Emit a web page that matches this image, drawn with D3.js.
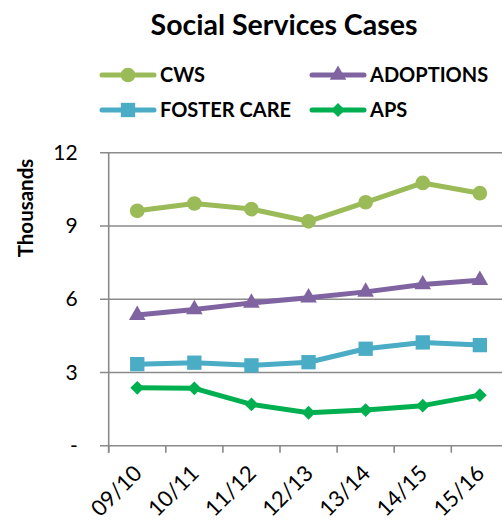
<!DOCTYPE html>
<html>
<head>
<meta charset="utf-8">
<script src="https://cdn.jsdelivr.net/npm/d3@7"></script>
<style>
  body { margin: 0; background: #fff; }
  text { font-family: Lato, "Open Sans", sans-serif; fill: #000; }
</style>
</head>
<body>
<div id="chart"></div>
<script>
// fiscal years on the x axis
const years = ["09/10", "10/11", "11/12", "12/13", "13/14", "14/15", "15/16"];
// case counts, in thousands
const cws = [9.62, 9.92, 9.69, 9.19, 9.97, 10.76, 10.34];
const adoptions = [5.35, 5.58, 5.85, 6.06, 6.30, 6.60, 6.78];
const fosterCare = [3.34, 3.40, 3.29, 3.42, 3.97, 4.23, 4.12];
const aps = [2.37, 2.35, 1.69, 1.35, 1.46, 1.64, 2.07];
const yTicks = [0, 3, 6, 9, 12];

// diamond = square turned 45deg
const series = [
    {name: "CWS", values: cws, color: "#9BBB59", symbol: d3.symbolCircle, size: 170, rot: 0},
    {name: "ADOPTIONS", values: adoptions, color: "#8064A2", symbol: d3.symbolTriangle, size: 120, rot: 0},
    {name: "FOSTER CARE", values: fosterCare, color: "#4BACC6", symbol: d3.symbolSquare, size: 205, rot: 0},
    {name: "APS", values: aps, color: "#00B050", symbol: d3.symbolSquare, size: 95, rot: 45}
];

const width = 502, height = 525;
const svg = d3.select("#chart").append("svg")
    .attr("width", width)
    .attr("height", height);

// plot area (right side runs off the canvas like the original)
const plotLeft = 108.7, plotTop = 152.7, plotBottom = 445.7;
const bandW = 57.1;

const x = d3.scaleBand()
    .domain(years)
    .range([plotLeft, plotLeft + bandW * years.length])
    .paddingInner(0).paddingOuter(0);
const y = d3.scaleLinear().domain([0, 12]).range([plotBottom, plotTop]);

//title
svg.append("text")
    .attr("x", 284).attr("y", 35)
    .attr("text-anchor", "middle")
    .attr("font-size", "28.5px")
    .attr("font-weight", "bold")
    .text("Social Services Cases");

// legend, two columns
const legendPos = [[100, 75], [310, 75], [100, 110], [310, 110]];
const legend = svg.selectAll("g.legend")
    .data(series)
    .enter().append("g")
    .attr("class", "legend")
    .attr("transform", (d, i) => "translate(" + legendPos[i][0] + "," + legendPos[i][1] + ")");
legend.append("line")
    .attr("x1", 2).attr("x2", 54)
    .attr("stroke", d => d.color)
    .attr("stroke-width", 5)
    .attr("stroke-linecap", "round");
legend.append("path")
    .attr("transform", d => "translate(28,0) rotate(" + d.rot + ")")
    .attr("d", d => d3.symbol().type(d.symbol).size(d.size)())
    .attr("fill", d => d.color);
legend.append("text")
    .attr("x", 60).attr("y", 0)
    .attr("dy", "0.36em")
    .attr("font-size", "20px")
    .attr("font-weight", "bold")
    .text(d => d.name);

// gridlines
const gridColor = "#8a8a8a";
svg.append("g").selectAll("line")
    .data(yTicks)
    .enter().append("line")
    .attr("x1", 100).attr("x2", width)
    .attr("y1", d => y(d)).attr("y2", d => y(d))
    .attr("stroke", gridColor)
    .attr("stroke-width", 1.6);

// y axis
const yAxis = svg.append("g")
    .attr("transform", "translate(" + plotLeft + ",0)")
    .call(d3.axisLeft(y).tickValues(yTicks).tickSize(0).tickPadding(31)
        .tickFormat(d => d === 0 ? "-" : d));
yAxis.select(".domain").remove();
yAxis.selectAll("text")
    .attr("font-size", "21px")
    .attr("font-family", "Lato, sans-serif")
    .attr("fill", "#000");
svg.append("line")
    .attr("x1", plotLeft).attr("x2", plotLeft)
    .attr("y1", plotTop).attr("y2", plotBottom + 7)
    .attr("stroke", gridColor)
    .attr("stroke-width", 1.6);

// x ticks at band edges
svg.append("g").selectAll("line")
    .data(years)
    .enter().append("line")
    .attr("x1", d => x(d)).attr("x2", d => x(d))
    .attr("y1", plotBottom).attr("y2", plotBottom + 7)
    .attr("stroke", gridColor)
    .attr("stroke-width", 1.6);

// x labels, rotated
svg.append("g").selectAll("text")
    .data(years)
    .enter().append("text")
    .attr("text-anchor", "end")
    .attr("font-size", "22px")
    .attr("transform", d => "translate(" + (x(d) + bandW / 2 + 6) + "," + (plotBottom + 29) + ") rotate(-45)")
    .text(d => d);

// y axis title
svg.append("text")
    .attr("transform", "translate(33,208) rotate(-90)")
    .attr("text-anchor", "middle")
    .attr("font-size", "20.5px")
    .attr("font-weight", "bold")
    .text("Thousands");

// lines + markers
const line = d3.line()
    .x((d, i) => x(years[i]) + bandW / 2)
    .y(d => y(d));

const groups = svg.selectAll("g.series")
    .data(series)
    .enter().append("g")
    .attr("class", "series");
groups.append("path")
    .attr("d", d => line(d.values))
    .attr("fill", "none")
    .attr("stroke", d => d.color)
    .attr("stroke-width", 5)
    .attr("stroke-linejoin", "round");
groups.each(function(s) {
    d3.select(this).selectAll("path.marker")
        .data(s.values)
        .enter().append("path")
        .attr("class", "marker")
        .attr("transform", (d, i) => "translate(" + (x(years[i]) + bandW / 2) + "," + y(d) + ") rotate(" + s.rot + ")")
        .attr("d", d3.symbol().type(s.symbol).size(s.size)())
        .attr("fill", s.color);
});
</script>
</body>
</html>
